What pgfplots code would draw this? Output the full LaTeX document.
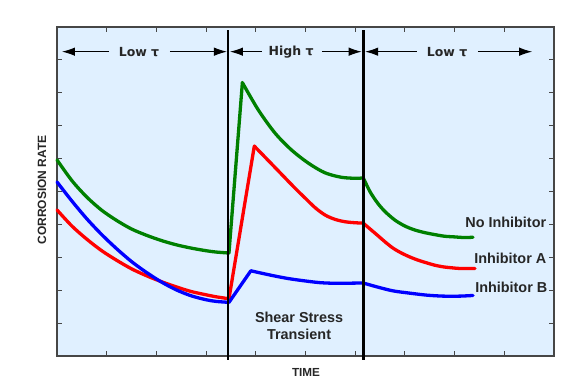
\documentclass[border=0pt]{standalone}
\usepackage{pgfplots}
\pgfplotsset{compat=1.18}
\usepackage{fontspec}
\setmainfont{Liberation Sans}
\newfontfamily\dvs{DejaVu Sans}
\usetikzlibrary{arrows.meta}
\definecolor{bgblue}{RGB}{224,240,255}
\definecolor{dgreen}{RGB}{0,128,0}
\definecolor{frame}{RGB}{70,70,70}
\begin{document}
\begin{tikzpicture}[x=1pt,y=1pt]
\useasboundingbox (-57,-28) rectangle (521,356);
\begin{axis}[
  scale only axis, width=497pt, height=329pt,
  xmin=0, xmax=10, ymin=0, ymax=10,
  xtick={1,...,9}, ytick={1,...,9},
  xticklabels={}, yticklabels={},
  tick align=inside, major tick length=5pt,
  tick style={frame, line width=0.9pt},
  axis line style={frame, line width=1.2pt},
  axis background/.style={fill=bgblue},
  clip=false,
  every axis plot/.append style={line width=3.3pt, line join=round, line cap=round},
]
% Green - No Inhibitor
\addplot[dgreen, smooth] coordinates {(0,5.96)(0.3,5.33)(0.6,4.83)(0.9,4.43)(1.2,4.12)(1.5,3.86)(1.8,3.67)(2.1,3.51)(2.4,3.38)(2.7,3.28)(3.0,3.20)(3.2,3.16)(3.46,3.13)};
\addplot[dgreen] coordinates {(3.46,3.13)(3.73,8.31)};
\addplot[dgreen, smooth] coordinates {(3.73,8.31)(4.05,7.48)(4.39,6.77)(4.72,6.26)(5.06,5.86)(5.39,5.57)(5.73,5.43)(6.06,5.40)(6.16,5.42)};
\addplot[dgreen, smooth] coordinates {(6.16,5.42)(6.3,4.99)(6.45,4.65)(6.6,4.39)(6.8,4.13)(7.0,3.95)(7.2,3.83)(7.4,3.75)(7.6,3.69)(7.8,3.64)(8.0,3.62)(8.2,3.60)(8.37,3.61)};
% Red - Inhibitor A
\addplot[red, smooth] coordinates {(0,4.44)(0.3,3.95)(0.6,3.55)(0.9,3.20)(1.2,2.91)(1.5,2.65)(1.8,2.44)(2.1,2.26)(2.4,2.10)(2.7,1.96)(3.0,1.86)(3.2,1.80)(3.46,1.74)};
\addplot[red] coordinates {(3.46,1.74)(3.97,6.38)};
\addplot[red, smooth] coordinates {(3.97,6.38)(4.4,5.71)(4.79,5.10)(5.0,4.79)(5.2,4.50)(5.4,4.28)(5.6,4.15)(5.8,4.08)(6.0,4.05)(6.16,4.04)};
\addplot[red, smooth] coordinates {(6.16,4.04)(6.3,3.86)(6.44,3.68)(6.6,3.47)(6.76,3.28)(6.93,3.13)(7.10,3.01)(7.27,2.91)(7.44,2.83)(7.6,2.76)(7.77,2.71)(7.95,2.68)(8.11,2.66)(8.41,2.66)};
% Blue - Inhibitor B
\addplot[blue, smooth] coordinates {(0,5.29)(0.3,4.71)(0.6,4.17)(0.9,3.69)(1.2,3.26)(1.5,2.87)(1.8,2.54)(2.1,2.25)(2.4,2.01)(2.7,1.83)(3.0,1.71)(3.2,1.66)(3.46,1.63)};
\addplot[blue] coordinates {(3.46,1.63)(3.90,2.59)};
\addplot[blue, smooth] coordinates {(3.90,2.59)(4.29,2.46)(4.63,2.36)(4.95,2.29)(5.29,2.23)(5.63,2.21)(6.16,2.22)};
\addplot[blue, smooth] coordinates {(6.16,2.22)(6.44,2.10)(6.76,1.98)(7.10,1.91)(7.44,1.85)(7.77,1.82)(8.11,1.82)(8.37,1.84)};
% vertical separators
\addplot[black, line width=2.8pt, line cap=butt] coordinates {(3.44,-0.12)(3.44,9.91)};
\addplot[black, line width=2.8pt, line cap=butt] coordinates {(6.16,-0.12)(6.16,9.91)};
% arrows
\tikzset{arr/.style={black, line width=1pt, -{Latex[length=13pt,width=8.5pt]}}}
\draw[arr] (axis cs:1.05,9.25) -- (axis cs:0.10,9.25);
\draw[arr] (axis cs:2.27,9.25) -- (axis cs:3.42,9.25);
\draw[arr] (axis cs:4.12,9.25) -- (axis cs:3.48,9.25);
\draw[arr] (axis cs:5.33,9.25) -- (axis cs:6.13,9.25);
\draw[arr] (axis cs:7.24,9.25) -- (axis cs:6.20,9.25);
\draw[arr] (axis cs:8.47,9.25) -- (axis cs:9.56,9.25);
\node[font=\dvs\bfseries\fontsize{12.5}{14}\selectfont, text=black!85] at (axis cs:1.65,9.25) {Low τ};
\node[font=\dvs\bfseries\fontsize{12.5}{14}\selectfont, text=black!85] at (axis cs:4.71,9.25) {High τ};
\node[font=\dvs\bfseries\fontsize{12.5}{14}\selectfont, text=black!85] at (axis cs:7.85,9.25) {Low τ};
% labels
\tikzset{lab/.style={font=\bfseries\fontsize{14.4}{17}\selectfont, text=black!85, inner sep=0pt}}
\node[lab] at (axis cs:9.03,4.05) {No Inhibitor};
\node[lab] at (axis cs:9.12,2.98) {Inhibitor A};
\node[lab] at (axis cs:9.14,2.10) {Inhibitor B};
\node[lab, align=center] at (axis cs:4.87,0.93) {Shear Stress\\Transient};
\node[font=\bfseries\fontsize{12}{14}\selectfont, text=black!85, rotate=90] at (axis cs:-0.30,5.05) {CORROSION RATE};
\node[font=\bfseries\fontsize{11.7}{14}\selectfont, text=black!85] at (axis cs:5.01,-0.49) {TIME};
\end{axis}
\end{tikzpicture}
\end{document}
